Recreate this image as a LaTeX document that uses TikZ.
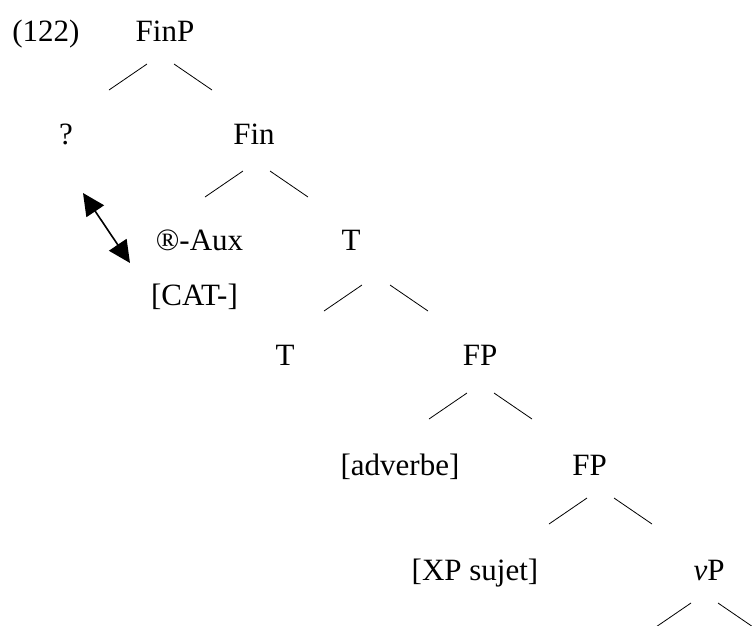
\documentclass[tikz,border=0pt]{standalone}
\usepackage{fontspec}
\setmainfont{Liberation Serif}
\usetikzlibrary{arrows.meta}
\begin{document}
\begin{tikzpicture}[x=1pt,y=-1pt,
  lab/.style={anchor=base,inner sep=0pt,font=\fontsize{31}{37}\selectfont},
  branch/.style={line width=0.8pt,black},
  dbl/.style={line width=1.6pt,{Triangle[length=22pt,width=21pt]}-{Triangle[length=22pt,width=21pt]}}]
\useasboundingbox (0,0) rectangle (752,625);
\clip (0,0) rectangle (752,625);
% labels
\node[lab] (ex) at (46,41) {(122)};
\node[lab] (FinP) at (165,41) {FinP};
\node[lab] (Q) at (66,144) {?};
\node[lab] (Fin) at (254,144) {Fin};
\node[lab] (Aux) at (199.5,250) {®-Aux};
\node[lab] (T1) at (351,250) {T};
\node[lab] (CAT) at (194.5,305) {[CAT-]};
\node[lab] (T2) at (285,365) {T};
\node[lab] (FP1) at (480,365) {FP};
\node[lab] (Adv) at (400,475) {[adverbe]};
\node[lab] (FP2) at (589.5,475) {FP};
\node[lab] (XP) at (475,580) {[XP sujet]};
\node[lab] (vP) at (709,580) {\textit{v}P};
% branch tops
\coordinate (b1l) at (147,64);  \coordinate (b1r) at (174,64);
\coordinate (b2l) at (243,171); \coordinate (b2r) at (270,171);
\coordinate (b3l) at (362,285); \coordinate (b3r) at (390,285);
\coordinate (b4l) at (467,393); \coordinate (b4r) at (494,393);
\coordinate (b5l) at (587,498); \coordinate (b5r) at (614,498);
\coordinate (b6l) at (691,603); \coordinate (b6r) at (718,603);
\foreach \n in {1,...,6}{
  \draw[branch] (b\n l) -- ++(-38,26);
  \draw[branch] (b\n r) -- ++(38,26);
}
% arrow
\coordinate (a1) at (83,193);
\coordinate (a2) at (130,263);
\draw[dbl] (a1) -- (a2);
\end{tikzpicture}
\end{document}
